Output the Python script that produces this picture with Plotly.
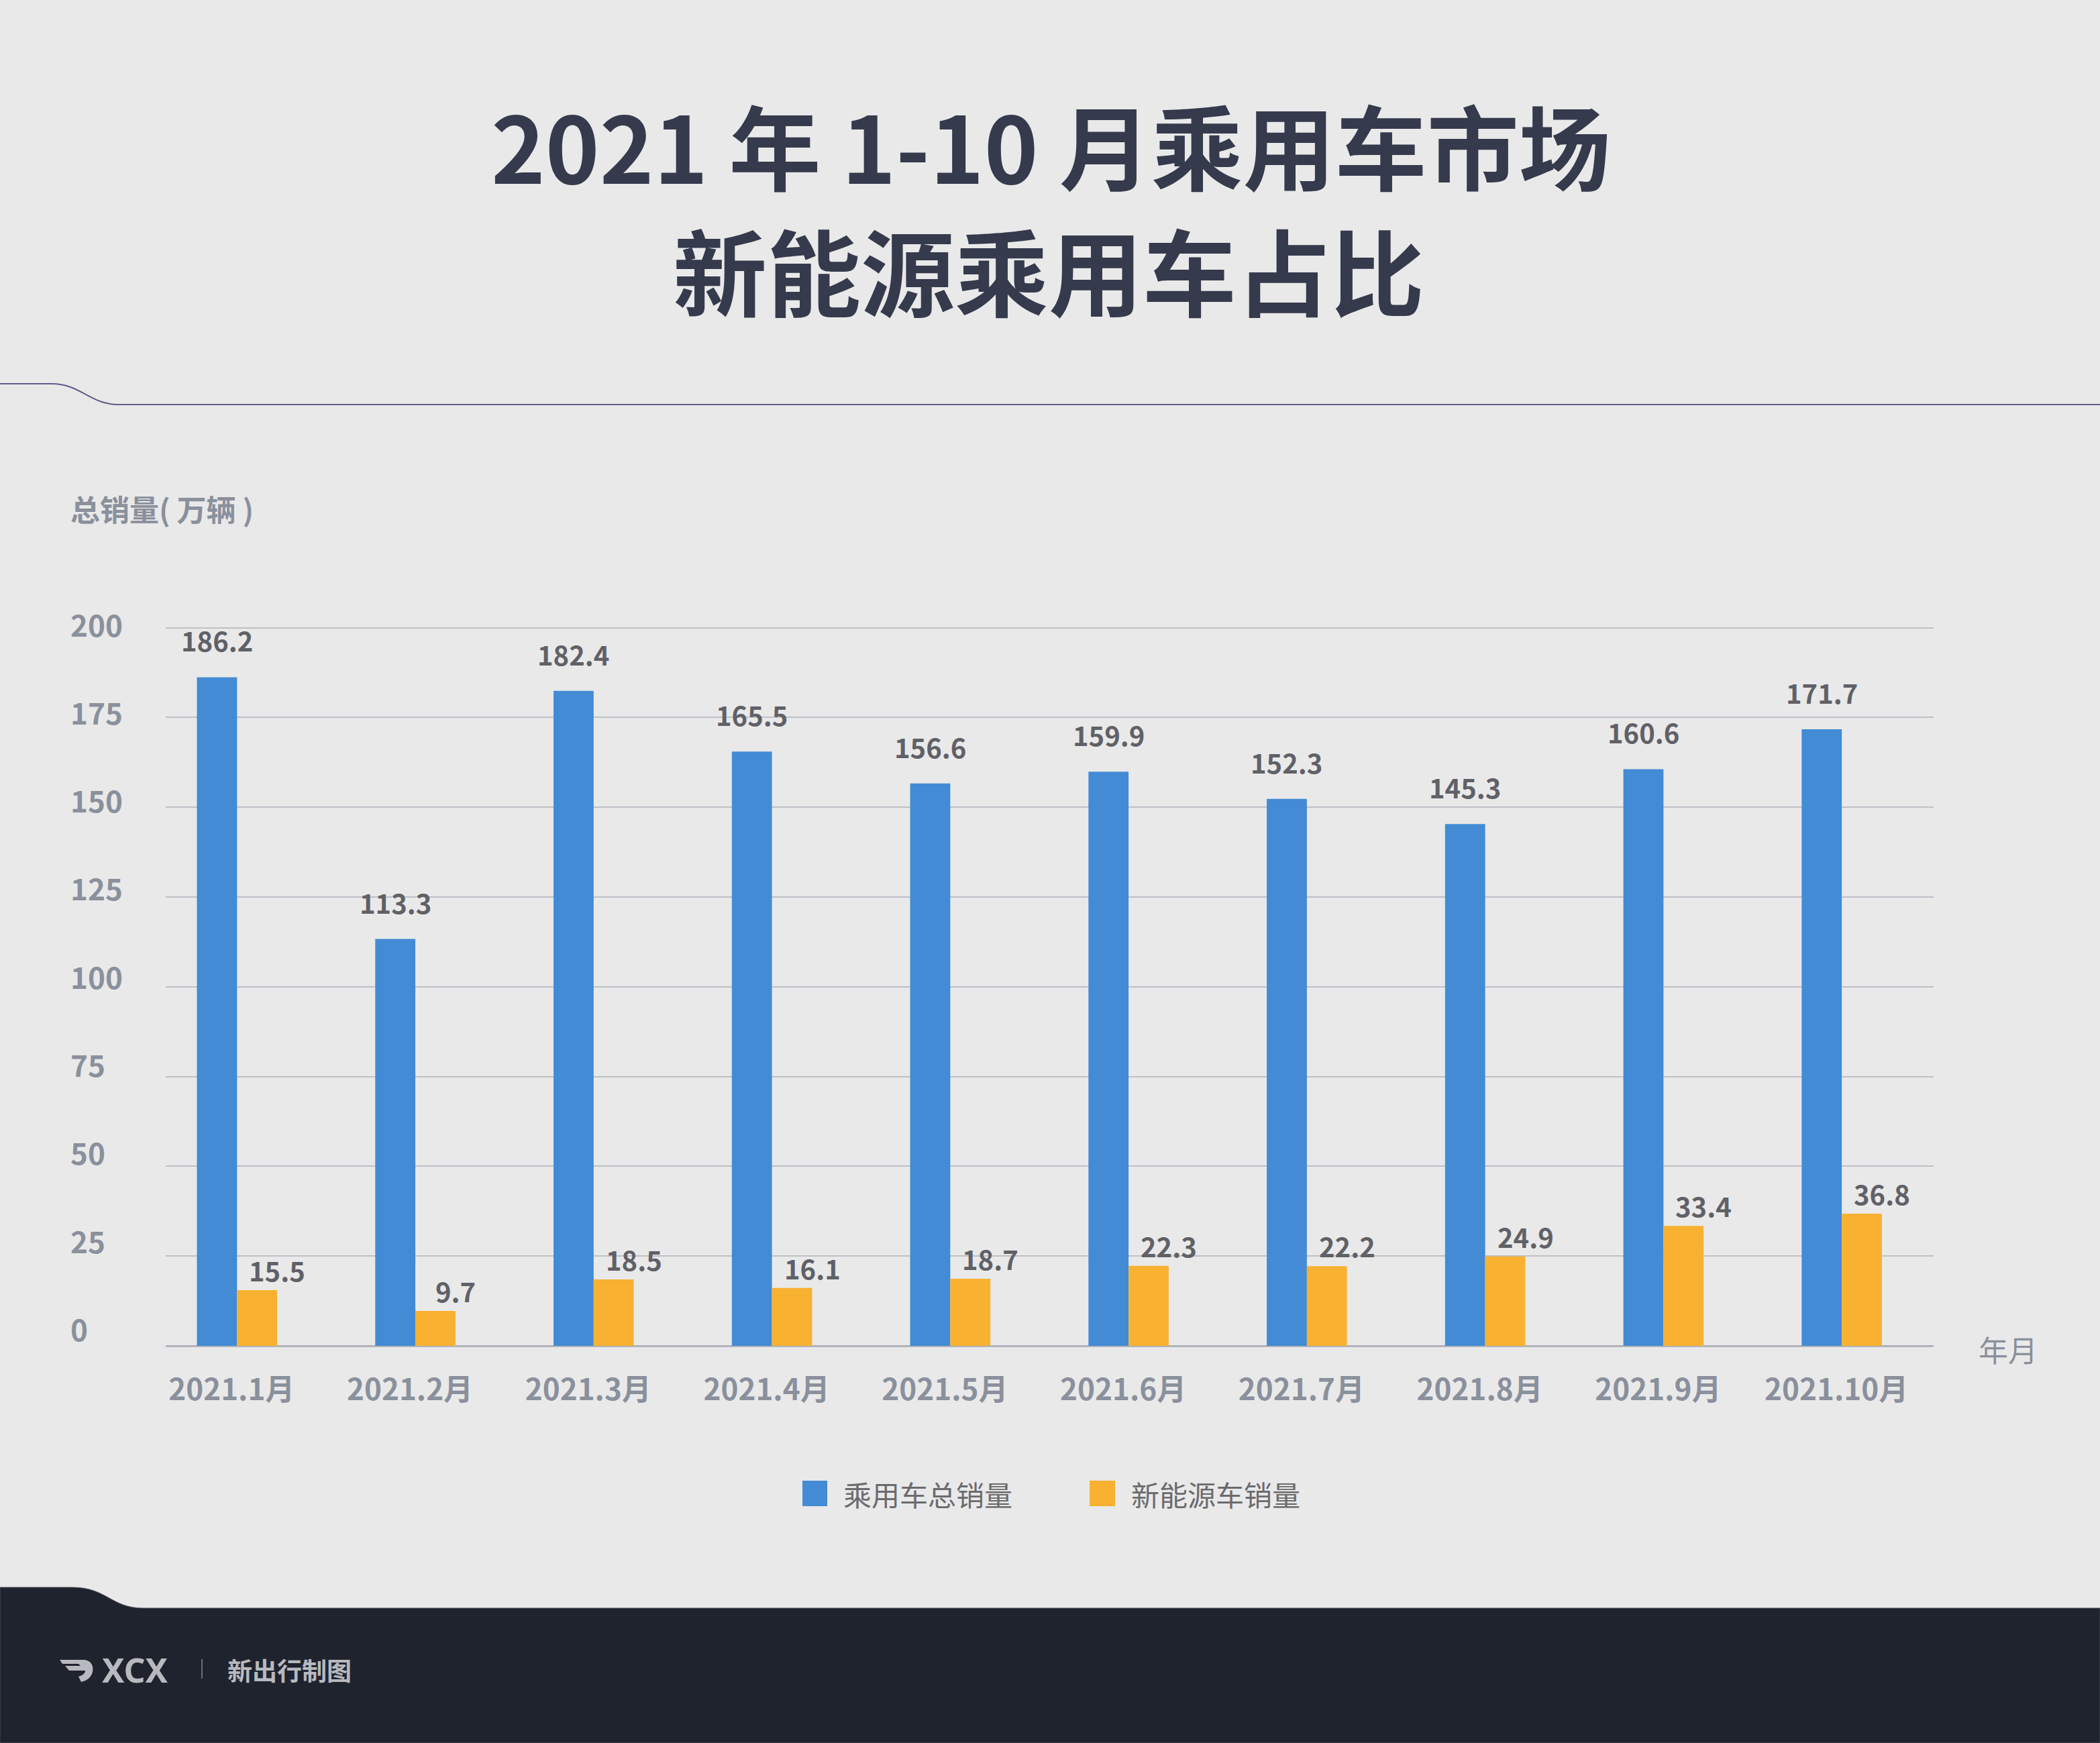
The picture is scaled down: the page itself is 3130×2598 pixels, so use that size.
import plotly.graph_objects as go

# ---------------- data ----------------
months = ["2021.1月", "2021.2月", "2021.3月", "2021.4月", "2021.5月",
          "2021.6月", "2021.7月", "2021.8月", "2021.9月", "2021.10月"]
total_sales = [186.2, 113.3, 182.4, 165.5, 156.6, 159.9, 152.3, 145.3, 160.6, 171.7]
nev_sales = [15.5, 9.7, 18.5, 16.1, 18.7, 22.3, 22.2, 24.9, 33.4, 36.8]
y_ticks = [0, 25, 50, 75, 100, 125, 150, 175, 200]
series_names = ["乘用车总销量", "新能源车销量"]
title_lines = ["2021 年 1-10 月乘用车市场", "新能源乘用车占比"]
y_title = "总销量( 万辆 )"
x_title = "年月"
brand = "XCX"
brand_caption = "新出行制图"

# ---------------- layout constants ----------------
W, H = 3130, 2598
L, R, T, B = 247, 248, 882, 592
PW, PH = W - L - R, H - T - B
FONT = "Noto Sans CJK SC, Noto Sans, sans-serif"
BLUE, ORANGE = "#438bd4", "#f8b131"
BG = "#e9e9e9"
AXIS_TXT = "#8a909c"
VAL_TXT = "#606167"
TITLE_TXT = "#353a4c"


def px(x):
    return (x - L) / PW


def py(y):
    return (H - B - y) / PH


def path(cmds, close=False):
    out = []
    for cmd, pts in cmds:
        coords = " ".join(f"{px(x):.5f},{py(y):.5f}" for x, y in pts)
        out.append(f"{cmd}{coords}")
    s = " ".join(out)
    return s + (" Z" if close else "")


fig = go.Figure()
fig.add_trace(go.Bar(x=months, y=total_sales, name=series_names[0],
                     marker=dict(color=BLUE, line=dict(width=0)), showlegend=False))
fig.add_trace(go.Bar(x=months, y=nev_sales, name=series_names[1],
                     marker=dict(color=ORANGE, line=dict(width=0)), showlegend=False))

annotations = []
# value labels
for m, v in zip(months, total_sales):
    annotations.append(dict(x=m, y=v, xref="x", yref="y", text=f"{v}", showarrow=False,
                            xshift=-30, yshift=55, yanchor="middle", xanchor="center",
                            font=dict(family=FONT, size=40, color=VAL_TXT, weight=700)))
for m, v in zip(months, nev_sales):
    annotations.append(dict(x=m, y=v, xref="x", yref="y", text=f"{v}", showarrow=False,
                            xshift=60, yshift=30, yanchor="middle", xanchor="center",
                            font=dict(family=FONT, size=40, color=VAL_TXT, weight=700)))
# y tick labels (left aligned, as in the reference slightly tighter than the grid)
for t in y_ticks:
    annotations.append(dict(x=px(103), y=t, xref="paper", yref="y", text=str(t),
                            showarrow=False, xanchor="left", yanchor="middle",
                            yshift=6 + 20 * (200 - t) / 200,
                            font=dict(family=FONT, size=44, color=AXIS_TXT, weight=700)))
# titles
annotations.append(dict(x=px(1566), y=py(214), xref="paper", yref="paper", text=title_lines[0],
                        showarrow=False, xanchor="center", yanchor="middle",
                        font=dict(family=FONT, size=137, color=TITLE_TXT, weight=700)))
annotations.append(dict(x=px(1563), y=py(400), xref="paper", yref="paper", text=title_lines[1],
                        showarrow=False, xanchor="center", yanchor="middle",
                        font=dict(family=FONT, size=140, color=TITLE_TXT, weight=700)))
annotations.append(dict(x=px(103), y=py(758), xref="paper", yref="paper", text=y_title,
                        showarrow=False, xanchor="left", yanchor="middle",
                        font=dict(family=FONT, size=44, color=AXIS_TXT, weight=700)))
annotations.append(dict(x=px(2947), y=py(2011), xref="paper", yref="paper", text=x_title,
                        showarrow=False, xanchor="left", yanchor="middle",
                        font=dict(family=FONT, size=44, color=AXIS_TXT)))
# legend texts
annotations.append(dict(x=px(1255), y=py(2226), xref="paper", yref="paper", text=series_names[0],
                        showarrow=False, xanchor="left", yanchor="middle",
                        font=dict(family=FONT, size=42, color="#6b6b6e")))
annotations.append(dict(x=px(1684), y=py(2226), xref="paper", yref="paper", text=series_names[1],
                        showarrow=False, xanchor="left", yanchor="middle",
                        font=dict(family=FONT, size=42, color="#6b6b6e")))
# footer brand
annotations.append(dict(x=px(150), y=py(2489), xref="paper", yref="paper", text=brand,
                        showarrow=False, xanchor="left", yanchor="middle",
                        font=dict(family="Noto Sans, sans-serif", size=50, color="#b8b9be", weight=700)))
annotations.append(dict(x=px(337), y=py(2489), xref="paper", yref="paper", text=brand_caption,
                        showarrow=False, xanchor="left", yanchor="middle",
                        font=dict(family=FONT, size=37, color="#b8b9be", weight=700)))

shapes = []
# decorative line under title
shapes.append(dict(type="path", xref="paper", yref="paper",
                   path=path([("M", [(0, 572)]), ("L", [(77, 572)]),
                              ("C", [(120, 572), (135, 603), (176, 603)]),
                              ("L", [(3130, 603)])]),
                   line=dict(color="#5f5d88", width=2), layer="below"))
# footer band
shapes.append(dict(type="path", xref="paper", yref="paper",
                   path=path([("M", [(0, 2366)]), ("L", [(107, 2366)]),
                              ("C", [(160, 2366), (165, 2397), (214, 2397)]),
                              ("L", [(3130, 2397)]), ("L", [(3130, 2598)]),
                              ("L", [(0, 2598)])], close=True),
                   fillcolor="#1f232e", line=dict(color="#4a4e58", width=1), layer="below"))
# logo icon (approximate)
shapes.append(dict(type="path", xref="paper", yref="paper",
                   path=path([("M", [(89, 2474)]), ("L", [(124, 2474)]),
                              ("C", [(136, 2474), (140, 2484), (138, 2492)]),
                              ("C", [(136, 2500), (130, 2505), (121, 2507)]),
                              ("L", [(117, 2499)]),
                              ("C", [(124, 2497), (127, 2494), (127, 2490)]),
                              ("L", [(103, 2490)]), ("L", [(97, 2483)]), ("L", [(120, 2483)]),
                              ("L", [(117, 2480)]), ("L", [(93, 2480)])], close=True),
                   fillcolor="#b8b9be", line=dict(width=0)))
# separator
shapes.append(dict(type="line", xref="paper", yref="paper",
                   x0=px(301), x1=px(301), y0=py(2473), y1=py(2502),
                   line=dict(color="#6a6d75", width=2)))
# legend squares
shapes.append(dict(type="rect", xref="paper", yref="paper",
                   x0=px(1196), x1=px(1233), y0=py(2245), y1=py(2207),
                   fillcolor=BLUE, line=dict(width=0)))
shapes.append(dict(type="rect", xref="paper", yref="paper",
                   x0=px(1624), x1=px(1662), y0=py(2245), y1=py(2207),
                   fillcolor=ORANGE, line=dict(width=0)))

fig.update_layout(
    width=W, height=H,
    margin=dict(l=L, r=R, t=T, b=B, pad=0),
    paper_bgcolor=BG, plot_bgcolor=BG,
    barmode="group", bargap=0.55, bargroupgap=0,
    font=dict(family=FONT),
    showlegend=False,
    annotations=annotations,
    shapes=shapes,
    xaxis=dict(type="category", range=[-0.4, 9.515], showgrid=False, showline=False,
               ticks="", ticklabelstandoff=36, ticklabelshift=-8,
               tickfont=dict(family=FONT, size=44, color=AXIS_TXT, weight=700)),
    yaxis=dict(range=[0, 210], tickvals=y_ticks, showticklabels=False, showgrid=True,
               gridcolor="#bdc0c7", gridwidth=2, zeroline=True, zerolinecolor="#b0b3ba",
               zerolinewidth=3, showline=False, ticks=""),
)

fig.write_html("out.html", config={"displayModeBar": False},
               post_script="document.body.style.margin='0';document.body.style.background='#e9e9e9';")
